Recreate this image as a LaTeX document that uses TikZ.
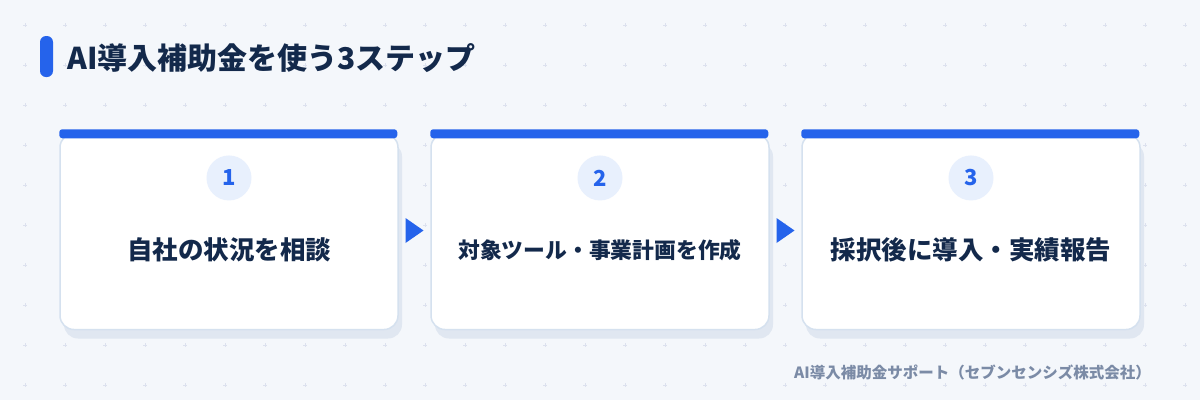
\documentclass[tikz,border=0pt]{standalone}
\usepackage{fontspec}
\newfontfamily\jp{Noto Sans CJK JP}
\usetikzlibrary{calc, positioning, shadows}
\definecolor{bgc}{HTML}{F4F7FB}
\definecolor{gridc}{HTML}{DCE1EE}
\definecolor{stepblue}{HTML}{2563EB}
\definecolor{navy}{HTML}{13294B}
\definecolor{cardline}{HTML}{D5E1EF}
\definecolor{shadowc}{HTML}{E0E7F1}
\definecolor{numfill}{HTML}{E8F0FD}
\definecolor{footc}{HTML}{7B8BA6}
\tikzset{
  card/.style = {draw = cardline, line width = 1.5pt, fill = white, rounded corners = 14pt,
    minimum width = 338pt, minimum height = 196pt,
    drop shadow = {shadow xshift = 4pt, shadow yshift = -9pt, fill = shadowc, opacity = 1}},
  numc/.style = {circle, fill = numfill, minimum size = 45pt, inner sep = 0pt,
    text = stepblue, font = \jp\bfseries\fontsize{22}{24}\selectfont},
  steptxt/.style = {text = navy, inner sep = 0pt},
  titletxt/.style = {text = navy, inner sep = 0pt, font = \jp\bfseries\fontsize{30}{34}\selectfont},
  foottxt/.style = {text = footc, inner sep = 0pt, font = \jp\bfseries\fontsize{15.5}{18}\selectfont}
}

\begin{document}
\begin{tikzpicture}[x = 1pt, y = -1pt]
\useasboundingbox (0,0) rectangle (1200,400);
\fill[bgc] (0,0) rectangle (1200,400);
\foreach \x in {25,65,...,1185}
  \foreach \y in {25,65,...,385}
    \draw[gridc, line width = 1pt] (\x-2,\y) -- (\x+2,\y) (\x,\y-2) -- (\x,\y+2);
\fill[stepblue, rounded corners = 6pt] (40,36) rectangle (53,77);
\node[titletxt, anchor = base west] (title) at (67,69.5) {AI導入補助金を使う3ステップ};
\foreach \i/\fs/\txt in {1/25.5/{自社の状況を相談}, 2/21.8/{対象ツール・事業計画を作成}, 3/25.5/{採択後に導入・実績報告}} {
  \node[card] (c\i) at ({229+371*(\i-1)},231.5) {};
  \fill[stepblue, rounded corners = 3pt] (c\i.north west) ++(0,-3.5) rectangle ++(338,9);
  \node[numc, below = 22.5pt of c\i.north] (n\i) {\i};
  \node[steptxt, font = \jp\bfseries\fontsize{\fs}{\fs}\selectfont] (t\i) at ($(c\i.center)+(0,18.5)$) {\txt};
}
\foreach \i/\j in {1/2, 2/3}
  \fill[stepblue] ($(c\i.east)!0.5!(c\j.west)$) ++(-9,-13.5) -- ++(0,25) -- ++(18,-12.5) -- cycle;
\node[foottxt, anchor = base east] (foot) at (1151,378) {AI導入補助金サポート（セブンセンシズ株式会社）};
\end{tikzpicture}
\end{document}
